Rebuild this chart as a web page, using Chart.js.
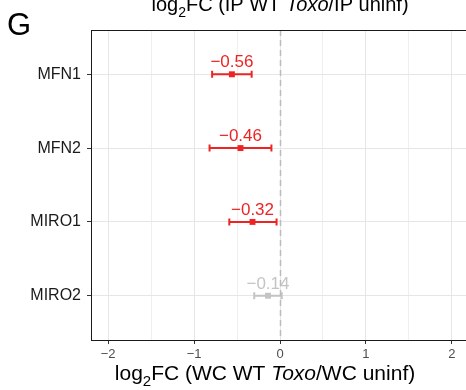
<!DOCTYPE html>
<html>
<head>
<meta charset="utf-8">
<script src="https://cdn.jsdelivr.net/npm/chart.js@4.4.1/dist/chart.umd.min.js"></script>
<style>
  html, body { margin: 0; padding: 0; background: #fff; overflow: hidden; }
  #wrap { width: 466px; height: 390px; overflow: hidden; }
</style>
</head>
<body>
<div id="wrap"><canvas id="chart" width="480" height="390"></canvas></div>
<script>
const genes = ['MFN1', 'MFN2', 'MIRO1', 'MIRO2'];
const log2fc = [-0.56, -0.46, -0.32, -0.14];
const ciLow = [-0.79, -0.82, -0.59, -0.30];
const ciHigh = [-0.33, -0.10, -0.04, 0.02];
const significant = [true, true, true, false];
const xTicks = [-2, -1.5, -1, -0.5, 0, 0.5, 1, 1.5, 2];

const RED = '#ee2424';
const GREY = '#c4c4c4';
const FONT = '"Liberation Sans", Arial, Helvetica, sans-serif';

const minus = v => (v < 0 ? '\u2212' : '') + Math.abs(v);
const colors = significant.map(s => s ? RED : GREY);

function drawRich(ctx, parts, cx, baseline, size) {
    const fontFor = p => (p.italic ? 'italic ' : '') + (p.sub ? Math.round(size * 0.7) : size) + 'px ' + FONT;
    let total = 0;
    parts.forEach(p => { ctx.font = fontFor(p); total += ctx.measureText(p.t).width; });
    let x = cx - total / 2;
    ctx.textAlign = 'left';
    ctx.textBaseline = 'alphabetic';
    parts.forEach(p => {
        ctx.font = fontFor(p);
        ctx.fillText(p.t, x, baseline + (p.sub ? size * 0.3 : 0));
        x += ctx.measureText(p.t).width;
    });
}

const extras = {
    id: 'extras',
    beforeDatasetsDraw(chart) {
        const { ctx, scales: { x, y } } = chart;
        ctx.save();
        ctx.lineWidth = 2;
        genes.forEach((g, i) => {
            const py = y.getPixelForValue(i + 1);
            const x0 = x.getPixelForValue(ciLow[i]);
            const x1 = x.getPixelForValue(ciHigh[i]);
            ctx.strokeStyle = colors[i];
            ctx.beginPath();
            ctx.moveTo(x0, py); ctx.lineTo(x1, py);
            ctx.moveTo(x0, py - 3.5); ctx.lineTo(x0, py + 3.5);
            ctx.moveTo(x1, py - 3.5); ctx.lineTo(x1, py + 3.5);
            ctx.stroke();
        });
        ctx.restore();
    },
    afterDatasetsDraw(chart) {
        const { ctx, chartArea, scales: { x, y } } = chart;
        ctx.save();
        // value labels
        ctx.font = '17px ' + FONT;
        ctx.textAlign = 'center';
        ctx.textBaseline = 'alphabetic';
        genes.forEach((g, i) => {
            ctx.fillStyle = colors[i];
            ctx.fillText('\u2212' + Math.abs(log2fc[i]).toFixed(2),
                x.getPixelForValue(log2fc[i]), y.getPixelForValue(i + 1) - 7);
        });
        // dashed zero line
        const zx = Math.round(x.getPixelForValue(0)) + 0.5;
        ctx.strokeStyle = '#bbbbbb';
        ctx.lineWidth = 1.5;
        ctx.setLineDash([6, 4]);
        ctx.beginPath();
        ctx.moveTo(zx, chartArea.top);
        ctx.lineTo(zx, chartArea.bottom);
        ctx.stroke();
        ctx.setLineDash([]);
        // top frame
        ctx.strokeStyle = '#1a1a1a';
        ctx.lineWidth = 1;
        ctx.beginPath();
        ctx.moveTo(chartArea.left, chartArea.top + 0.5);
        ctx.lineTo(chartArea.right, chartArea.top + 0.5);
        ctx.moveTo(chartArea.right - 0.5, chartArea.top);
        ctx.lineTo(chartArea.right - 0.5, chartArea.bottom);
        ctx.stroke();
        // titles
        ctx.fillStyle = '#000';
        drawRich(ctx, [{ t: 'log' }, { t: '2', sub: true }, { t: 'FC (IP WT ' }, { t: 'Toxo', italic: true }, { t: '/IP uninf)' }],
            x.getPixelForValue(0), 11, 20);
        drawRich(ctx, [{ t: 'log' }, { t: '2', sub: true }, { t: 'FC (WC WT ' }, { t: 'Toxo', italic: true }, { t: '/WC uninf)' }],
            265, 380, 21);
        ctx.font = '31px ' + FONT;
        ctx.textAlign = 'left';
        ctx.fillText('G', 7, 35);
        ctx.restore();
    }
};

new Chart(document.getElementById('chart'), {
    type: 'scatter',
    data: {
        datasets: [{
            data: log2fc.map((v, i) => ({ x: v, y: i + 1 })),
            pointStyle: 'rect',
            pointRadius: 4.2,
            pointHoverRadius: 4.2,
            backgroundColor: colors,
            borderColor: colors,
            borderWidth: 0
        }]
    },
    options: {
        responsive: false,
        animation: false,
        events: [],
        layout: { padding: { top: 30, right: 11, left: 0, bottom: 0 } },
        plugins: { legend: { display: false }, tooltip: { enabled: false } },
        scales: {
            x: {
                type: 'linear',
                min: -2.2,
                max: 2.2,
                afterBuildTicks: s => { s.ticks = xTicks.map(v => ({ value: v })); },
                afterFit: s => { s.height = 50; },
                grid: {
                    color: c => Number.isInteger(c.tick.value) ? '#e6e6e6' : '#efefef',
                    tickColor: c => Number.isInteger(c.tick.value) ? '#333' : 'rgba(0,0,0,0)',
                    tickLength: 4,
                    lineWidth: 1
                },
                border: { color: '#1a1a1a', width: 1 },
                ticks: {
                    autoSkip: false,
                    maxRotation: 0,
                    padding: 3,
                    color: '#4d4d4d',
                    font: { family: FONT, size: 13 },
                    callback: v => Number.isInteger(v) ? minus(v) : ''
                }
            },
            y: {
                type: 'linear',
                reverse: true,
                min: 0.4,
                max: 4.6,
                afterBuildTicks: s => { s.ticks = genes.map((g, i) => ({ value: i + 1 })); },
                afterFit: s => { s.width = 91; },
                grid: { color: '#e6e6e6', tickColor: '#333', tickLength: 4, lineWidth: 1 },
                border: { color: '#1a1a1a', width: 1 },
                ticks: {
                    autoSkip: false,
                    padding: 6,
                    color: '#1a1a1a',
                    font: { family: FONT, size: 16 },
                    callback: v => genes[v - 1]
                }
            }
        }
    },
    plugins: [extras]
});
</script>
</body>
</html>
